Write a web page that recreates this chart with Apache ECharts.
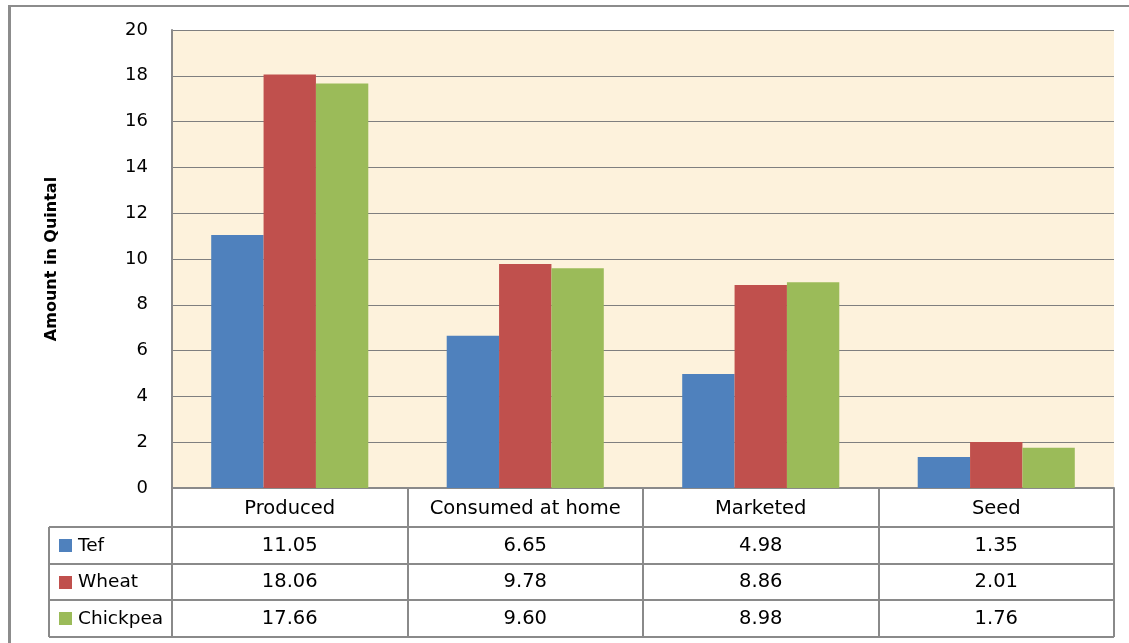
<!DOCTYPE html>
<html>
<head>
<meta charset="utf-8">
<script src="https://cdn.jsdelivr.net/npm/echarts@6/dist/echarts.min.js"></script>
<style>
  html, body { margin: 0; padding: 0; background: #ffffff; }
  #chart { width: 1129px; height: 643px; }
</style>
</head>
<body>
<div id="chart"></div>
<script>
// Harvest use per household, in quintals
const categories = ['Produced', 'Consumed at home', 'Marketed', 'Seed'];
const tefValues = [11.05, 6.65, 4.98, 1.35];
const wheatValues = [18.06, 9.78, 8.86, 2.01];
const chickpeaValues = [17.66, 9.60, 8.98, 1.76];
const seriesNames = ['Tef', 'Wheat', 'Chickpea'];
const seriesColors = ['#4f81bd', '#c0504d', '#9bbb59'];
const yTicks = [0, 2, 4, 6, 8, 10, 12, 14, 16, 18, 20];

const FONT = 'DejaVu Sans';
const LINE = '#8a8a8a';

const chart = echarts.init(document.getElementById('chart'), null, { renderer: 'canvas' });

const seriesData = [tefValues, wheatValues, chickpeaValues];

chart.setOption({
  animation: false,
  backgroundColor: '#ffffff',
  grid: {
    left: 172, right: 15, top: 30, bottom: 155,
    show: true,
    backgroundColor: '#fdf2dc',
    borderWidth: 0
  },
  xAxis: {
    type: 'category',
    data: categories,
    axisLine: { show: true, lineStyle: { color: LINE, width: 2 } },
    axisTick: { show: false },
    axisLabel: { show: false },
    splitLine: { show: false }
  },
  yAxis: {
    type: 'value',
    min: yTicks[0],
    max: yTicks[yTicks.length - 1],
    interval: yTicks[1] - yTicks[0],
    name: 'Amount in Quintal',
    nameLocation: 'middle',
    nameGap: 112,
    nameRotate: 90,
    nameTextStyle: { fontFamily: FONT, fontSize: 16, fontWeight: 'bold', color: '#000' },
    axisLine: { show: true, lineStyle: { color: LINE, width: 2 } },
    axisTick: { show: false },
    axisLabel: { margin: 24, fontFamily: FONT, fontSize: 18, color: '#000' },
    splitLine: { show: true, lineStyle: { color: '#7f7f7f', width: 1 } }
  },
  series: seriesNames.map((name, i) => ({
    name: name,
    type: 'bar',
    data: seriesData[i],
    barGap: '0%',
    barCategoryGap: '33.3%',
    itemStyle: { color: seriesColors[i] }
  }))
});

// Data table drawn under the plot, aligned to the category bands
function buildTable() {
  const graphics = [];
  const yTop = Math.round(chart.convertToPixel({ yAxisIndex: 0 }, 0));
  const c0 = chart.convertToPixel({ xAxisIndex: 0 }, categories[0]);
  const c1 = chart.convertToPixel({ xAxisIndex: 0 }, categories[1]);
  const band = c1 - c0;
  const plotLeft = Math.round(c0 - band / 2);
  const plotRight = Math.round(c0 - band / 2 + band * categories.length);
  const tableLeft = 49;
  const headerH = 39;
  const rowH = 36.5;
  const rowTops = seriesNames.map((_, i) => yTop + headerH + i * rowH);
  const tableBottom = yTop + headerH + seriesNames.length * rowH;

  const line = (x1, y1, x2, y2) => ({
    type: 'line',
    shape: { x1: x1, y1: y1, x2: x2, y2: y2 },
    style: { stroke: LINE, lineWidth: 2 },
    z: 10
  });
  const text = (x, y, str, align, size) => ({
    type: 'text',
    x: x, y: y,
    style: {
      text: str, fill: '#000', font: (size || 19.5) + 'px "' + FONT + '"',
      align: align || 'center', verticalAlign: 'middle'
    },
    z: 11
  });

  // horizontal rules
  rowTops.forEach(y => graphics.push(line(tableLeft, Math.round(y), plotRight, Math.round(y))));
  graphics.push(line(tableLeft, Math.round(tableBottom), plotRight, Math.round(tableBottom)));
  // vertical rules
  graphics.push(line(tableLeft, Math.round(rowTops[0]), tableLeft, Math.round(tableBottom)));
  for (let k = 0; k <= categories.length; k++) {
    const x = Math.round(plotLeft + band * k);
    graphics.push(line(x, yTop, x, Math.round(tableBottom)));
  }

  // category headers
  categories.forEach((cat) => {
    const cx = chart.convertToPixel({ xAxisIndex: 0 }, cat);
    graphics.push(text(cx, yTop + headerH / 2 + 1, cat));
  });

  // series rows: legend key, name and values
  seriesNames.forEach((name, i) => {
    const cy = rowTops[i] + rowH / 2 + 0.5;
    graphics.push({
      type: 'rect',
      shape: { x: 59, y: Math.round(cy - 6.5), width: 13, height: 13 },
      style: { fill: seriesColors[i] },
      z: 11
    });
    graphics.push(text(78, cy, name, 'left', 18.5));
    seriesData[i].forEach((v, k) => {
      const cx = chart.convertToPixel({ xAxisIndex: 0 }, categories[k]);
      graphics.push(text(cx, cy, v.toFixed(2)));
    });
  });

  // outer chart frame (left and top edges)
  graphics.push({
    type: 'line', shape: { x1: 9.5, y1: 5, x2: 9.5, y2: 643 },
    style: { stroke: '#8c8c8c', lineWidth: 3 }, z: 12
  });
  graphics.push({
    type: 'line', shape: { x1: 8, y1: 6, x2: 1129, y2: 6 },
    style: { stroke: '#8c8c8c', lineWidth: 2 }, z: 12
  });

  chart.setOption({ graphic: graphics });
}

buildTable();
</script>
</body>
</html>
